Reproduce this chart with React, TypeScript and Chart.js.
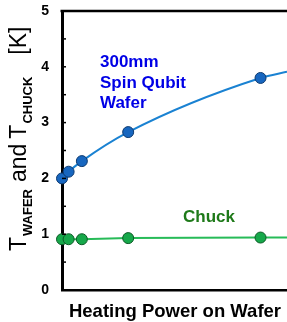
import React, { useEffect, useRef } from "react";
import { Chart, registerables } from "chart.js";

Chart.register(...registerables);

// Heating power (arbitrary units) and temperatures [K]
const power = [0, 0.5, 1.5, 5, 15];
const waferTemp = [2.0, 2.12, 2.31, 2.83, 3.8];
const chuckTemp = [0.91, 0.91, 0.91, 0.93, 0.94];
// Fit lines continue to the right edge of the plot
const fitEndPower = 17;
const waferFitEnd = 3.91;
const chuckFitEnd = 0.94;
const yTicks = [0, 1, 2, 3, 4, 5];

const FONT = "'Liberation Sans', Arial, sans-serif";

const decorPlugin = {
  id: "decor",
  afterDraw(chart: any) {
    const { ctx, chartArea, scales } = chart;
    const ys = scales.y;
    ctx.save();
    // top border
    ctx.strokeStyle = "#000";
    ctx.lineWidth = 2.5;
    ctx.beginPath();
    ctx.moveTo(chartArea.left - 1.5, chartArea.top);
    ctx.lineTo(chart.width, chartArea.top);
    ctx.stroke();
    // inward minor ticks every 0.5
    ctx.lineWidth = 1.5;
    for (let v = 0.5; v < 5; v += 0.5) {
      const py = ys.getPixelForValue(v);
      ctx.beginPath();
      ctx.moveTo(chartArea.left, py);
      ctx.lineTo(chartArea.left + 4, py);
      ctx.stroke();
    }
    // annotations
    ctx.font = `bold 17px ${FONT}`;
    ctx.fillStyle = "#0000e6";
    ctx.textBaseline = "alphabetic";
    ctx.textAlign = "left";
    ctx.fillText("300mm", 100, 67);
    ctx.fillText("Spin Qubit", 100, 88);
    ctx.fillText("Wafer", 100, 108);
    ctx.fillStyle = "#1f7a1a";
    ctx.fillText("Chuck", 183, 222);
    // x title
    ctx.fillStyle = "#000";
    ctx.font = `bold 18.5px ${FONT}`;
    ctx.textAlign = "center";
    ctx.fillText("Heating Power on Wafer", 175, 317);
    // y title (rotated, with subscripts)
    ctx.translate(26, 251);
    ctx.rotate(-Math.PI / 2);
    ctx.textAlign = "left";
    const big = `23px ${FONT}`;
    const small = `bold 13px ${FONT}`;
    const parts: [string, string, number, number][] = [
      ["T", big, 0, 1],
      ["WAFER", small, 6, 7],
      ["and", big, 0, 5],
      ["T", big, 0, 1],
      ["CHUCK", small, 6, 22],
      ["[K]", big, 0, 0],
    ];
    let x = 0;
    for (const [t, f, dy, gap] of parts) {
      ctx.font = f;
      ctx.fillText(t, x, dy);
      x += ctx.measureText(t).width + gap;
    }
    ctx.restore();
  },
};

export default function App() {
  const ref = useRef<HTMLCanvasElement | null>(null);
  useEffect(() => {
    document.body.style.margin = "0";
    const canvas = ref.current!;
    const waferData = power.map((p, i) => ({ x: p, y: waferTemp[i] }));
    waferData.push({ x: fitEndPower, y: waferFitEnd });
    const chuckData = power.map((p, i) => ({ x: p, y: chuckTemp[i] }));
    chuckData.push({ x: fitEndPower, y: chuckFitEnd });
    const radii = power.map(() => 5.5).concat([0]);
    const chart = new Chart(canvas, {
      type: "line",
      data: {
        datasets: [
          {
            data: chuckData,
            borderColor: "#27bb58",
            borderWidth: 2,
            backgroundColor: "#16a84a",
            pointBorderColor: "#0b5a25",
            pointBorderWidth: 1,
            pointRadius: radii,
            tension: 0,
            clip: false,
          },
          {
            data: waferData,
            borderColor: "#1a82d2",
            borderWidth: 2,
            backgroundColor: "#1766bf",
            pointBorderColor: "#0d3a70",
            pointBorderWidth: 1,
            pointRadius: radii,
            cubicInterpolationMode: "monotone",
            clip: false,
          },
        ],
      },
      options: {
        animation: false,
        responsive: false,
        maintainAspectRatio: false,
        layout: { autoPadding: false, padding: { top: 11, right: 0, left: 0, bottom: 0 } },
        plugins: { legend: { display: false }, tooltip: { enabled: false } },
        scales: {
          x: {
            type: "linear",
            min: 0,
            max: fitEndPower,
            grid: { display: false, drawTicks: false },
            border: { display: true, color: "#000", width: 2.5 },
            ticks: { display: false },
            afterFit(s: any) {
              s.height = 32;
              s.paddingLeft = 0;
              s.paddingRight = 0;
            },
          },
          y: {
            min: 0,
            max: 5,
            grid: { display: false, drawTicks: false },
            border: { display: true, color: "#000", width: 3 },
            afterBuildTicks(s: any) {
              s.ticks = yTicks.map((v) => ({ value: v }));
            },
            ticks: {
              color: "#000",
              font: { family: FONT, size: 14, weight: "bold" },
              padding: 13,
            },
            afterFit(s: any) {
              s.width = 62;
              s.paddingTop = 0;
              s.paddingBottom = 0;
            },
          },
        },
      },
      plugins: [decorPlugin],
    } as any);
    return () => chart.destroy();
  }, []);
  return <canvas ref={ref} width={287} height={322} style={{ display: "block" }} />;
}
